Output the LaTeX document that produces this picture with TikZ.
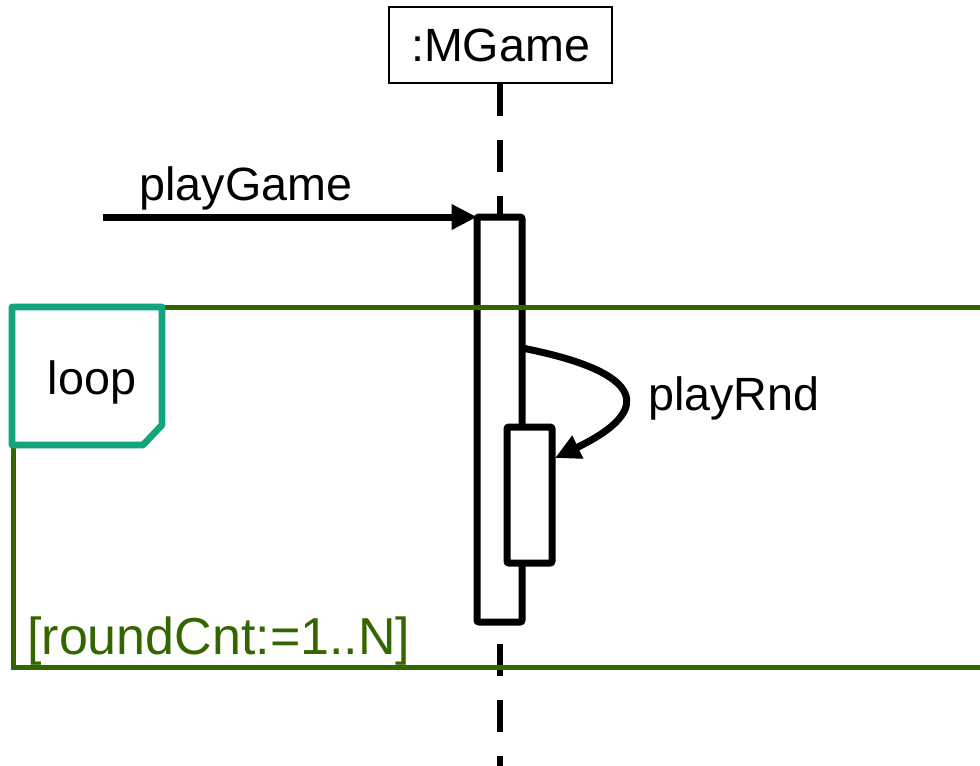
\documentclass[tikz,border=0pt]{standalone}
\usepackage{fontspec}
\setmainfont{Liberation Sans}
\usetikzlibrary{arrows.meta}
\definecolor{framegreen}{RGB}{52,102,0}
\definecolor{tabteal}{RGB}{18,164,124}
\tikzset{
  lbl/.style={font=\fontsize{35pt}{40pt}\selectfont, inner sep=0pt},
  actbox/.style={draw=black, fill=white, line width=5.25pt, rounded corners=1.5pt},
  msg/.style={line width=5.25pt, -{Triangle[length=19pt,width=18pt]}},
  lifeline/.style={line width=5pt, dash pattern=on 24pt off 18pt},
}
\begin{document}
\begin{tikzpicture}[x=0.75pt,y=-0.75pt]
\useasboundingbox (0,0) rectangle (980,765);
% object head
\node[draw, line width=1.5pt, minimum width=223*0.75pt, minimum height=76*0.75pt, lbl] (obj) at (500.5,45) {:MGame};
\coordinate (lifeend) at (500,770);
\draw[lifeline] (obj.south -| lifeend) -- (lifeend);
% activation boxes
\path (477,217) coordinate (a1nw) (522,622) coordinate (a1se);
\draw[actbox] (a1nw) rectangle (a1se);
\coordinate (a1east) at (522,348);
\path (507,427) coordinate (a2nw) (552,563) coordinate (a2se);
% loop frame
\draw[framegreen, line width=3.75pt] (995,307) -- (13,307) -- (13,667) -- (995,667);
% tab
\draw[tabteal, line width=5pt, fill=white, line join=round] (143,445) -- (12,445) -- (12,307) -- (162,307) -- (162,425) -- cycle;
\node[lbl, anchor=base] (loop) at (92,394) {loop};
\node[lbl, anchor=base west, text=framegreen, font=\fontsize{39pt}{43pt}\selectfont] (guard) at (27,654) {[roundCnt:=1..N]};
% inner activation
\draw[actbox] (a2nw) rectangle (a2se);
\coordinate (a2east) at (555,458);
% messages
\coordinate (pgstart) at (103,217);
\draw[msg] (pgstart) -- (a1nw);
\node[lbl, anchor=base] (pg) at (246,200) {playGame};
\draw[msg] (a1east) .. controls (645,372) and (655,410) .. (a2east);
\node[lbl, anchor=base west] (pr) at (648,410) {playRnd};
\end{tikzpicture}
\end{document}
